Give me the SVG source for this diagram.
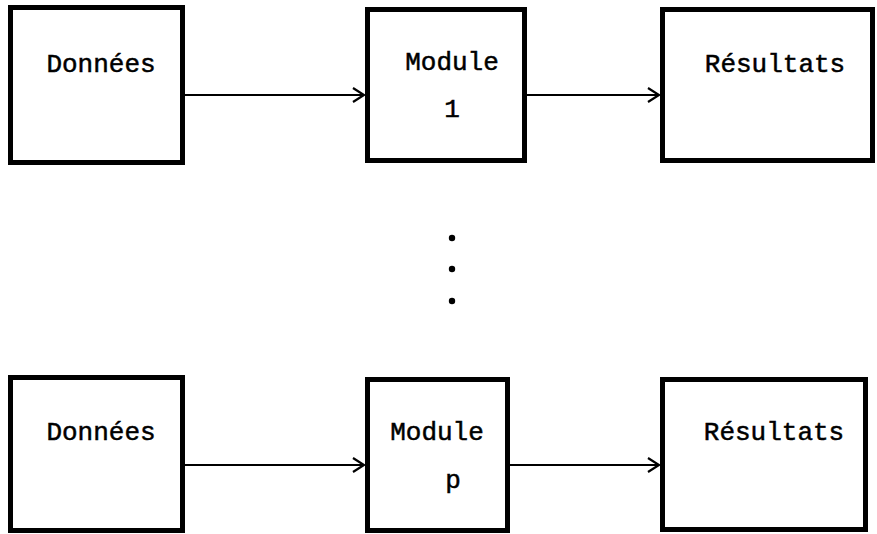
<svg xmlns="http://www.w3.org/2000/svg" width="877" height="534" viewBox="0 0 877 534">
<style>
.box{fill:#fff;stroke:#000;stroke-width:5}
.lbl{font-family:"Liberation Mono","Courier New",monospace;font-size:26px;fill:#000;stroke:#000;stroke-width:0.5;text-anchor:middle}
.ln{fill:none;stroke:#000;stroke-width:2.2}
</style>
<rect width="877" height="534" fill="#fff"/>
<g id="donnees1"><rect class="box" x="10.5" y="7.5" width="172" height="155"/><text class="lbl" x="101" y="72">Données</text></g>
<g id="module1"><rect class="box" x="367.5" y="9.5" width="157" height="151"/><text class="lbl" x="452" y="70">Module</text><text class="lbl" x="452" y="117">1</text></g>
<g id="resultats1"><rect class="box" x="662.5" y="9.5" width="210" height="151"/><text class="lbl" x="775" y="72">Résultats</text></g>
<g id="donnees2"><rect class="box" x="10.5" y="377.5" width="172" height="153"/><text class="lbl" x="101" y="440">Données</text></g>
<g id="modulep"><rect class="box" x="367.5" y="379.5" width="140" height="151"/><text class="lbl" x="437" y="440">Module</text><text class="lbl" x="453" y="488">p</text></g>
<g id="resultats2"><rect class="box" x="662.5" y="379.5" width="203" height="150"/><text class="lbl" x="774" y="440">Résultats</text></g>
<g id="dots"><circle cx="452" cy="238" r="3.2"/><circle cx="452" cy="269" r="3.2"/><circle cx="452" cy="301" r="3.2"/></g>
<g id="connectors">
<path class="ln" d="M185 95H364M353 88L364 95L353 102"/>
<path class="ln" d="M527 95H659M648 88L659 95L648 102"/>
<path class="ln" d="M185 465H364M353 458L364 465L353 472"/>
<path class="ln" d="M510 465H659M648 458L659 465L648 472"/>
</g>
</svg>
